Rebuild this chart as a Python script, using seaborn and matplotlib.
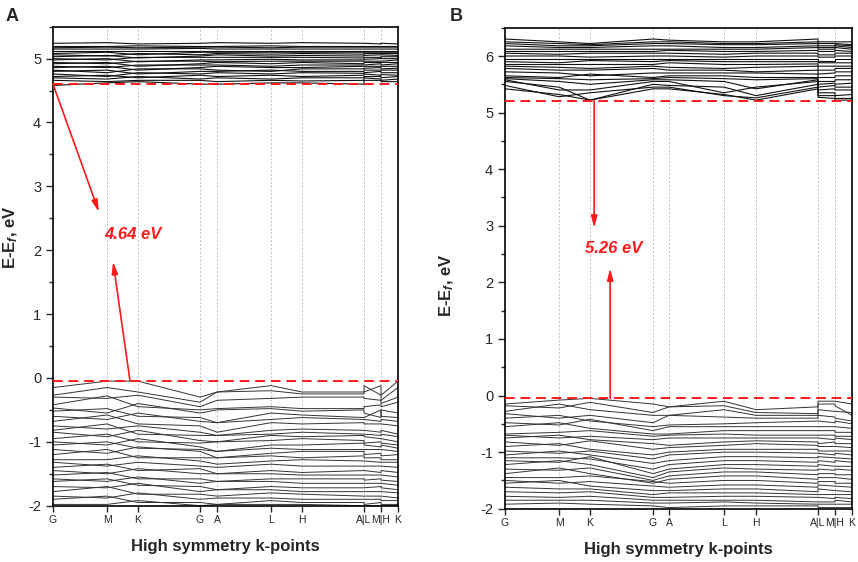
import pandas as pd
import matplotlib
matplotlib.use('Agg')
import matplotlib.pyplot as plt
from matplotlib.ticker import MultipleLocator
import seaborn as sns

# high symmetry path (A|L and M|H are jumps in the path)
K_LABELS = ['G', 'M', 'K', 'G', 'A', 'L', 'H', 'A|L', 'M|H', 'K']
K_POS_A = [0, 0.1565, 0.2464, 0.4261, 0.4754, 0.6319, 0.7217, 0.9014, 0.9507, 1.0]
K_POS_B = [0, 0.1556, 0.2450, 0.4265, 0.4726, 0.6311, 0.7233, 0.9020, 0.9510, 1.0]
# band energies at G M K G A L H A | L M | H K
NODE_IDX = [0, 1, 2, 3, 4, 5, 6, 7, 7, 8, 8, 9]

VB_A = [
    [-0.15, -0.05, -0.05, -0.30, -0.22, -0.12, -0.22, -0.22, -0.12, -0.27, -0.27, -0.05],
    [-0.27, -0.15, -0.22, -0.38, -0.22, -0.20, -0.25, -0.25, -0.22, -0.12, -0.35, -0.15],
    [-0.30, -0.32, -0.27, -0.45, -0.35, -0.32, -0.30, -0.30, -0.32, -0.35, -0.40, -0.30],
    [-0.42, -0.28, -0.45, -0.50, -0.48, -0.45, -0.48, -0.48, -0.45, -0.42, -0.45, -0.38],
    [-0.47, -0.55, -0.40, -0.55, -0.50, -0.48, -0.52, -0.50, -0.55, -0.62, -0.50, -0.55],
    [-0.52, -0.48, -0.60, -0.62, -0.70, -0.55, -0.58, -0.62, -0.62, -0.50, -0.60, -0.62],
    [-0.60, -0.65, -0.55, -0.68, -0.70, -0.65, -0.62, -0.65, -0.65, -0.68, -0.65, -0.68],
    [-0.68, -0.58, -0.72, -0.75, -0.85, -0.70, -0.72, -0.70, -0.72, -0.72, -0.72, -0.75],
    [-0.75, -0.80, -0.75, -0.85, -0.90, -0.82, -0.80, -0.82, -0.82, -0.85, -0.82, -0.88],
    [-0.82, -0.72, -0.88, -0.90, -0.90, -0.88, -0.85, -0.88, -0.88, -0.90, -0.88, -0.92],
    [-0.85, -0.92, -0.82, -0.98, -1.00, -0.90, -0.92, -0.90, -0.92, -0.95, -0.95, -1.00],
    [-0.95, -0.88, -1.00, -1.02, -1.00, -0.98, -0.95, -0.98, -1.02, -1.00, -1.02, -1.05],
    [-1.00, -1.05, -0.95, -1.08, -1.15, -1.05, -1.05, -1.02, -1.05, -1.08, -1.05, -1.10],
    [-1.05, -1.00, -1.10, -1.12, -1.15, -1.10, -1.12, -1.12, -1.12, -1.12, -1.12, -1.15],
    [-1.12, -1.18, -1.08, -1.15, -1.25, -1.18, -1.15, -1.15, -1.20, -1.18, -1.22, -1.20],
    [-1.20, -1.12, -1.25, -1.25, -1.25, -1.22, -1.25, -1.22, -1.25, -1.25, -1.28, -1.28],
    [-1.28, -1.28, -1.22, -1.30, -1.35, -1.30, -1.28, -1.30, -1.30, -1.32, -1.32, -1.32],
    [-1.32, -1.38, -1.32, -1.38, -1.40, -1.35, -1.38, -1.38, -1.38, -1.38, -1.38, -1.40],
    [-1.40, -1.35, -1.45, -1.42, -1.50, -1.45, -1.48, -1.45, -1.45, -1.48, -1.45, -1.48],
    [-1.45, -1.50, -1.42, -1.50, -1.50, -1.50, -1.52, -1.52, -1.52, -1.52, -1.52, -1.55],
    [-1.52, -1.48, -1.58, -1.58, -1.62, -1.58, -1.58, -1.58, -1.60, -1.58, -1.60, -1.62],
    [-1.58, -1.62, -1.55, -1.65, -1.62, -1.62, -1.65, -1.65, -1.65, -1.65, -1.65, -1.68],
    [-1.62, -1.58, -1.68, -1.70, -1.75, -1.70, -1.72, -1.72, -1.72, -1.70, -1.72, -1.75],
    [-1.70, -1.72, -1.65, -1.78, -1.75, -1.75, -1.78, -1.78, -1.78, -1.78, -1.78, -1.80],
    [-1.78, -1.70, -1.82, -1.82, -1.85, -1.80, -1.82, -1.85, -1.85, -1.85, -1.85, -1.88],
    [-1.85, -1.88, -1.80, -1.90, -1.88, -1.88, -1.90, -1.90, -1.90, -1.90, -1.92, -1.92],
    [-1.90, -1.85, -1.95, -1.95, -1.98, -1.92, -1.95, -1.95, -1.98, -1.95, -1.98, -1.98],
    [-1.98, -1.98, -1.92, -2.00, -1.98, -1.98, -1.98, -2.00, -2.00, -2.00, -2.00, -2.00],
]
CB_A = [
    [4.58, 4.62, 4.64, 4.60, 4.60, 4.62, 4.62, 4.60, 4.66, 4.66, 4.64, 4.64],
    [4.66, 4.64, 4.66, 4.66, 4.64, 4.66, 4.65, 4.66, 4.70, 4.68, 4.66, 4.68],
    [4.70, 4.68, 4.72, 4.68, 4.70, 4.68, 4.70, 4.70, 4.72, 4.72, 4.70, 4.72],
    [4.72, 4.74, 4.70, 4.74, 4.72, 4.74, 4.72, 4.74, 4.76, 4.74, 4.75, 4.74],
    [4.76, 4.72, 4.78, 4.76, 4.78, 4.76, 4.78, 4.77, 4.78, 4.80, 4.78, 4.78],
    [4.80, 4.82, 4.76, 4.80, 4.80, 4.82, 4.80, 4.80, 4.82, 4.82, 4.82, 4.82],
    [4.82, 4.78, 4.84, 4.84, 4.82, 4.80, 4.84, 4.84, 4.85, 4.86, 4.84, 4.85],
    [4.86, 4.88, 4.82, 4.86, 4.88, 4.86, 4.86, 4.88, 4.88, 4.88, 4.88, 4.88],
    [4.88, 4.86, 4.90, 4.90, 4.90, 4.88, 4.90, 4.90, 4.90, 4.92, 4.90, 4.92],
    [4.92, 4.94, 4.88, 4.92, 4.94, 4.92, 4.94, 4.92, 4.94, 4.94, 4.94, 4.94],
    [4.94, 4.92, 4.96, 4.96, 4.95, 4.96, 4.96, 4.96, 4.96, 4.96, 4.96, 4.98],
    [4.98, 5.00, 4.95, 4.98, 4.98, 4.99, 4.98, 4.98, 4.99, 5.00, 5.00, 5.00],
    [5.00, 4.98, 5.02, 5.02, 5.02, 5.02, 5.02, 5.01, 5.02, 5.02, 5.03, 5.03],
    [5.03, 5.05, 5.01, 5.04, 5.06, 5.04, 5.05, 5.04, 5.05, 5.06, 5.06, 5.05],
    [5.06, 5.04, 5.08, 5.06, 5.08, 5.07, 5.08, 5.07, 5.08, 5.08, 5.08, 5.08],
    [5.08, 5.10, 5.06, 5.10, 5.10, 5.10, 5.10, 5.10, 5.10, 5.10, 5.10, 5.10],
    [5.12, 5.12, 5.12, 5.12, 5.12, 5.12, 5.12, 5.12, 5.12, 5.12, 5.12, 5.12],
    [5.15, 5.15, 5.15, 5.16, 5.15, 5.15, 5.15, 5.15, 5.15, 5.15, 5.15, 5.15],
    [5.17, 5.18, 5.17, 5.18, 5.18, 5.17, 5.18, 5.18, 5.18, 5.18, 5.18, 5.18],
    [5.19, 5.19, 5.20, 5.19, 5.19, 5.20, 5.19, 5.19, 5.19, 5.19, 5.19, 5.19],
    [5.24, 5.25, 5.23, 5.24, 5.25, 5.24, 5.25, 5.24, 5.24, 5.23, 5.24, 5.23],
]

VB_B = [
    [-0.15, -0.08, -0.05, -0.15, -0.20, -0.10, -0.25, -0.20, -0.10, -0.10, -0.10, -0.15],
    [-0.18, -0.22, -0.12, -0.30, -0.20, -0.18, -0.30, -0.32, -0.15, -0.15, -0.18, -0.35],
    [-0.28, -0.15, -0.25, -0.35, -0.35, -0.25, -0.35, -0.35, -0.25, -0.28, -0.28, -0.30],
    [-0.32, -0.40, -0.35, -0.48, -0.35, -0.38, -0.40, -0.40, -0.35, -0.38, -0.40, -0.45],
    [-0.40, -0.35, -0.45, -0.55, -0.52, -0.50, -0.48, -0.45, -0.45, -0.48, -0.45, -0.50],
    [-0.48, -0.52, -0.42, -0.62, -0.55, -0.55, -0.55, -0.55, -0.55, -0.55, -0.55, -0.58],
    [-0.55, -0.48, -0.58, -0.68, -0.68, -0.62, -0.62, -0.62, -0.62, -0.62, -0.65, -0.65],
    [-0.68, -0.65, -0.62, -0.72, -0.70, -0.68, -0.70, -0.70, -0.70, -0.70, -0.72, -0.72],
    [-0.70, -0.75, -0.72, -0.78, -0.75, -0.75, -0.75, -0.75, -0.75, -0.78, -0.75, -0.78],
    [-0.75, -0.70, -0.78, -0.85, -0.88, -0.82, -0.80, -0.82, -0.85, -0.82, -0.85, -0.85],
    [-0.82, -0.88, -0.80, -0.95, -0.92, -0.88, -0.85, -0.88, -0.90, -0.90, -0.90, -0.92],
    [-0.90, -0.85, -0.95, -1.05, -1.00, -0.95, -0.95, -0.95, -0.98, -0.98, -0.98, -0.98],
    [-0.98, -1.02, -0.98, -1.12, -1.05, -1.00, -1.00, -1.02, -1.02, -1.05, -1.02, -1.05],
    [-1.05, -0.98, -1.05, -1.20, -1.15, -1.08, -1.08, -1.10, -1.08, -1.10, -1.10, -1.12],
    [-1.10, -1.10, -1.12, -1.30, -1.22, -1.15, -1.15, -1.18, -1.15, -1.18, -1.15, -1.18],
    [-1.15, -1.18, -1.08, -1.38, -1.30, -1.22, -1.22, -1.25, -1.22, -1.25, -1.25, -1.25],
    [-1.22, -1.15, -1.22, -1.45, -1.35, -1.28, -1.30, -1.32, -1.30, -1.32, -1.30, -1.32],
    [-1.30, -1.32, -1.28, -1.50, -1.42, -1.35, -1.35, -1.40, -1.38, -1.38, -1.40, -1.40],
    [-1.38, -1.28, -1.38, -1.55, -1.48, -1.42, -1.42, -1.48, -1.45, -1.45, -1.45, -1.48],
    [-1.45, -1.45, -1.42, -1.52, -1.55, -1.50, -1.50, -1.55, -1.52, -1.52, -1.55, -1.55],
    [-1.50, -1.55, -1.52, -1.60, -1.62, -1.58, -1.58, -1.62, -1.58, -1.60, -1.60, -1.62],
    [-1.55, -1.50, -1.60, -1.68, -1.68, -1.65, -1.65, -1.70, -1.65, -1.68, -1.68, -1.70],
    [-1.62, -1.65, -1.65, -1.75, -1.72, -1.72, -1.72, -1.75, -1.75, -1.75, -1.75, -1.75],
    [-1.70, -1.72, -1.70, -1.80, -1.80, -1.78, -1.78, -1.80, -1.80, -1.82, -1.80, -1.82],
    [-1.78, -1.80, -1.78, -1.85, -1.85, -1.85, -1.85, -1.88, -1.88, -1.88, -1.85, -1.88],
    [-1.85, -1.85, -1.85, -1.90, -1.90, -1.88, -1.90, -1.92, -1.92, -1.92, -1.92, -1.92],
    [-1.92, -1.90, -1.92, -1.95, -1.98, -1.95, -1.95, -1.95, -1.98, -1.98, -1.98, -1.98],
]
CB_B = [
    [5.42, 5.32, 5.22, 5.42, 5.42, 5.32, 5.22, 5.42, 5.27, 5.25, 5.22, 5.22],
    [5.48, 5.28, 5.35, 5.45, 5.45, 5.30, 5.26, 5.45, 5.30, 5.30, 5.25, 5.25],
    [5.55, 5.45, 5.22, 5.50, 5.48, 5.45, 5.30, 5.50, 5.35, 5.35, 5.30, 5.32],
    [5.58, 5.40, 5.40, 5.55, 5.55, 5.35, 5.45, 5.55, 5.40, 5.42, 5.40, 5.40],
    [5.60, 5.55, 5.50, 5.58, 5.58, 5.55, 5.42, 5.58, 5.45, 5.48, 5.45, 5.45],
    [5.62, 5.60, 5.58, 5.60, 5.62, 5.60, 5.58, 5.60, 5.50, 5.52, 5.50, 5.52],
    [5.65, 5.62, 5.68, 5.62, 5.65, 5.65, 5.62, 5.62, 5.55, 5.55, 5.58, 5.58],
    [5.72, 5.70, 5.65, 5.70, 5.70, 5.70, 5.70, 5.68, 5.62, 5.62, 5.65, 5.65],
    [5.78, 5.75, 5.75, 5.78, 5.75, 5.75, 5.72, 5.75, 5.68, 5.70, 5.72, 5.72],
    [5.82, 5.80, 5.78, 5.82, 5.80, 5.78, 5.80, 5.82, 5.75, 5.75, 5.78, 5.78],
    [5.85, 5.85, 5.85, 5.85, 5.88, 5.85, 5.85, 5.86, 5.82, 5.82, 5.82, 5.82],
    [5.90, 5.88, 5.92, 5.90, 5.92, 5.90, 5.90, 5.90, 5.88, 5.88, 5.88, 5.88],
    [5.95, 5.95, 5.95, 5.95, 5.95, 5.95, 5.95, 5.95, 5.92, 5.92, 5.95, 5.95],
    [6.00, 6.00, 5.98, 6.00, 6.00, 5.98, 6.00, 6.00, 5.98, 5.98, 6.00, 6.00],
    [6.05, 6.03, 6.05, 6.05, 6.05, 6.03, 6.05, 6.05, 6.02, 6.02, 6.05, 6.05],
    [6.08, 6.08, 6.08, 6.08, 6.10, 6.08, 6.08, 6.10, 6.08, 6.08, 6.10, 6.08],
    [6.12, 6.12, 6.12, 6.12, 6.12, 6.12, 6.12, 6.15, 6.12, 6.12, 6.15, 6.12],
    [6.18, 6.15, 6.15, 6.18, 6.18, 6.15, 6.15, 6.18, 6.15, 6.15, 6.18, 6.15],
    [6.22, 6.18, 6.18, 6.22, 6.22, 6.20, 6.20, 6.22, 6.18, 6.18, 6.20, 6.18],
    [6.25, 6.22, 6.20, 6.25, 6.25, 6.22, 6.22, 6.25, 6.22, 6.22, 6.22, 6.20],
    [6.30, 6.25, 6.22, 6.30, 6.28, 6.25, 6.25, 6.30, 6.25, 6.25, 6.25, 6.25],
]

# band edges (dashed lines) and gap labels
VBM = [-0.04, -0.05]
CBM = [4.60, 5.21]
GAP_TEXT = ['4.64 eV', '5.26 eV']
YLIM = [(-2, 5.5), (-2, 6.5)]


def band_frame(bands, kpos):
    rows = []
    for b, energies in enumerate(bands):
        for i, (n, e) in enumerate(zip(NODE_IDX, energies)):
            rows.append({'band': b, 'order': i, 'k': kpos[n], 'E': e})
    return pd.DataFrame(rows)


sns.set_style('ticks')
plt.rcParams['font.family'] = ['Liberation Sans', 'DejaVu Sans']
plt.rcParams['axes.unicode_minus'] = False
plt.rcParams['mathtext.fontset'] = 'custom'
plt.rcParams['mathtext.rm'] = 'Liberation Sans:bold'
plt.rcParams['mathtext.it'] = 'Liberation Sans:bold:italic'

fig = plt.figure(figsize=(8.58, 5.62), dpi=100)
ax_a = fig.add_axes([0.0618, 0.1002, 0.4021, 0.8523])
ax_b = fig.add_axes([0.5886, 0.0948, 0.4044, 0.8559])

panels = [(ax_a, K_POS_A, VB_A, CB_A), (ax_b, K_POS_B, VB_B, CB_B)]
for p, (ax, kpos, vb, cb) in enumerate(panels):
    sns.lineplot(data=band_frame(vb, kpos), x='k', y='E', units='band', estimator=None,
                 sort=False, color='#333333', linewidth=0.7, ax=ax, zorder=2)
    sns.lineplot(data=band_frame(cb, kpos), x='k', y='E', units='band', estimator=None,
                 sort=False, color='#111111', linewidth=0.8, ax=ax, zorder=2)

    for k in kpos[1:-1]:
        ax.axvline(k, color='#c4c4c4', linestyle=(0, (2, 2)), linewidth=0.7, zorder=0)

    ax.axhline(VBM[p], color='#ff1a1a', linestyle=(0, (5, 3)), linewidth=1.4, zorder=3)
    ax.axhline(CBM[p], color='#ff1a1a', linestyle=(0, (5, 3)), linewidth=1.4, zorder=3)

    ax.set_xlim(0, 1)
    ax.set_ylim(*YLIM[p])
    ax.set_xticks(kpos)
    ax.set_xticklabels(K_LABELS, fontsize=7.5)
    ax.yaxis.set_major_locator(MultipleLocator(1))
    ax.yaxis.set_minor_locator(MultipleLocator(0.5))
    ax.tick_params(axis='y', which='major', direction='out', length=5, width=1, labelsize=10.5)
    ax.tick_params(axis='y', which='minor', direction='out', length=3, width=1)
    ax.tick_params(axis='x', direction='out', length=4, width=1, pad=3)
    for s in ax.spines.values():
        s.set_linewidth(1.2)
        s.set_color('black')
        s.set_visible(True)

    ax.set_xlabel('High symmetry k-points', fontsize=12, fontweight='bold', labelpad=10)
    ax.set_ylabel('E-E$_f$, eV', fontsize=12, fontweight='bold')

arrow = dict(arrowstyle='-|>,head_width=0.18,head_length=0.7', color='#ff1a1a', lw=1.2,
             shrinkA=0, shrinkB=0)

# panel A: oblique arrows from band edges towards label
ax_a.annotate('', xy=(0.133, 2.60), xytext=(0.0, CBM[0]), arrowprops=arrow, zorder=4)
ax_a.annotate('', xy=(0.174, 1.82), xytext=(0.223, VBM[0]), arrowprops=arrow, zorder=4)
ax_a.text(0.148, 2.24, GAP_TEXT[0], color='#ff1a1a', fontsize=12, fontweight='bold',
          fontstyle='italic', va='center', ha='left')
ax_a.yaxis.set_label_coords(-0.095, 0.56)

# panel B: vertical arrows
ax_b.annotate('', xy=(0.257, 2.96), xytext=(0.257, CBM[1]), arrowprops=arrow, zorder=4)
ax_b.annotate('', xy=(0.303, 2.25), xytext=(0.303, VBM[1]), arrowprops=arrow, zorder=4)
ax_b.text(0.23, 2.60, GAP_TEXT[1], color='#ff1a1a', fontsize=12, fontweight='bold',
          fontstyle='italic', va='center', ha='left')
ax_b.yaxis.set_label_coords(-0.14, 0.465)

fig.text(0.006, 0.985, 'A', fontsize=13, fontweight='bold', va='top', ha='left')
fig.text(0.524, 0.985, 'B', fontsize=13, fontweight='bold', va='top', ha='left')

fig.savefig('out.png', dpi=100)
